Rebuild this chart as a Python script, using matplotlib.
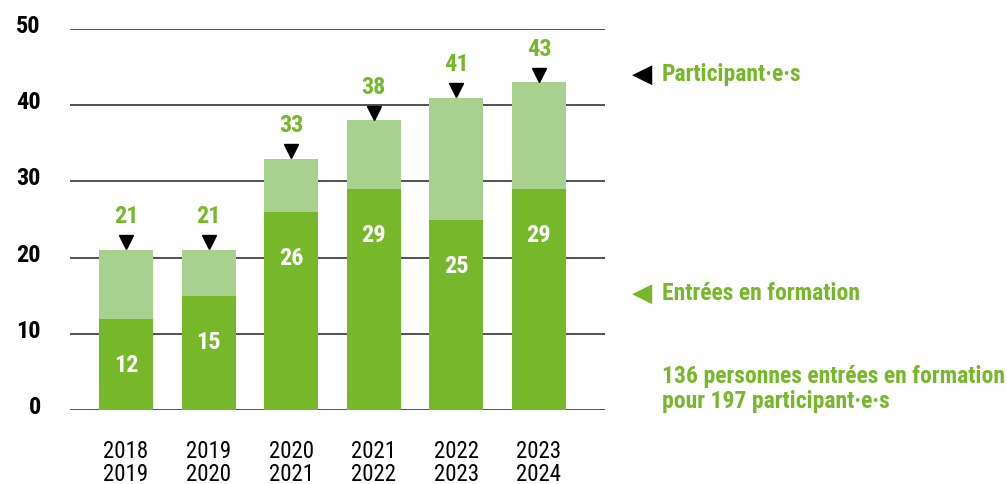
import matplotlib
matplotlib.use("Agg")
import matplotlib.pyplot as plt
import matplotlib.transforms as mtransforms
from matplotlib import font_manager

names = {f.name for f in font_manager.fontManager.ttflist}
narrow = 'Liberation Sans Narrow' if 'Liberation Sans Narrow' in names else 'Roboto Condensed' if 'Roboto Condensed' in names else 'Liberation Sans'
plt.rcParams['font.family'] = [narrow, 'DejaVu Sans']

periods = ["2018\n2019", "2019\n2020", "2020\n2021", "2021\n2022", "2022\n2023", "2023\n2024"]
entrees = [12, 15, 26, 29, 25, 29]
participants = [21, 21, 33, 38, 41, 43]
yticks = [0, 10, 20, 30, 40, 50]

dark = "#76b82a"
light = "#a8d08f"

fig = plt.figure(figsize=(10.07, 4.85), dpi=100)
ax = fig.add_axes([70/1007, (485-411)/485, (605-70)/1007, (411-30)/485])
x = list(range(len(periods)))
w = 0.654
rest = [p - e for p, e in zip(participants, entrees)]
ax.bar(x, entrees, width=w, color=dark, zorder=3)
ax.bar(x, rest, bottom=entrees, width=w, color=light, zorder=3)
for yv in yticks:
    ax.axhline(yv, color="#333333", lw=1.2, zorder=1)

for xi, e, p in zip(x, entrees, participants):
    ax.text(xi, e - 6, str(e), ha='center', va='center', color='white', fontsize=17.5, fontweight='bold', zorder=4)
    ax.plot(xi, p + 1.0, marker='v', color='black', markersize=10, zorder=4, clip_on=False)
    ax.text(xi, p + 4.5, str(p), ha='center', va='center', color=dark, fontsize=17.5, fontweight='bold', zorder=4)

ax.set_xlim(-0.678, 5.80)
ax.set_ylim(0, 50)
ax.set_yticks(yticks)
ax.set_yticklabels([str(v) for v in yticks], fontsize=17.5, fontweight='bold')
ax.set_xticks(x)
ax.set_xticklabels(periods, fontsize=16.5, linespacing=1.0)
ax.tick_params(axis='y', length=0, pad=21)
ax.tick_params(axis='x', length=0, pad=21)
off = mtransforms.ScaledTranslation(0, 6/100, fig.dpi_scale_trans)
for lab in ax.get_yticklabels():
    lab.set_transform(lab.get_transform() + off)
for s in ax.spines.values():
    s.set_visible(False)

def fy(py):
    return 1 - py/485
def fx(px):
    return px/1007

fig.text(fx(642), fy(75), "◀", ha='center', va='center', color='black', fontsize=19, family=['DejaVu Sans'])
fig.text(fx(662), fy(75), "Participant·e·s", ha='left', va='center', color=dark, fontsize=17, fontweight='bold')
fig.text(fx(642), fy(294), "◀", ha='center', va='center', color=dark, fontsize=19, family=['DejaVu Sans'])
fig.text(fx(662), fy(294), "Entrées en formation", ha='left', va='center', color=dark, fontsize=17, fontweight='bold')
fig.text(fx(662), fy(389), "136 personnes entrées en formation\npour 197 participant·e·s", ha='left', va='center', color=dark, fontsize=17, fontweight='bold', linespacing=1.15)

fig.savefig("out.png", dpi=100)
